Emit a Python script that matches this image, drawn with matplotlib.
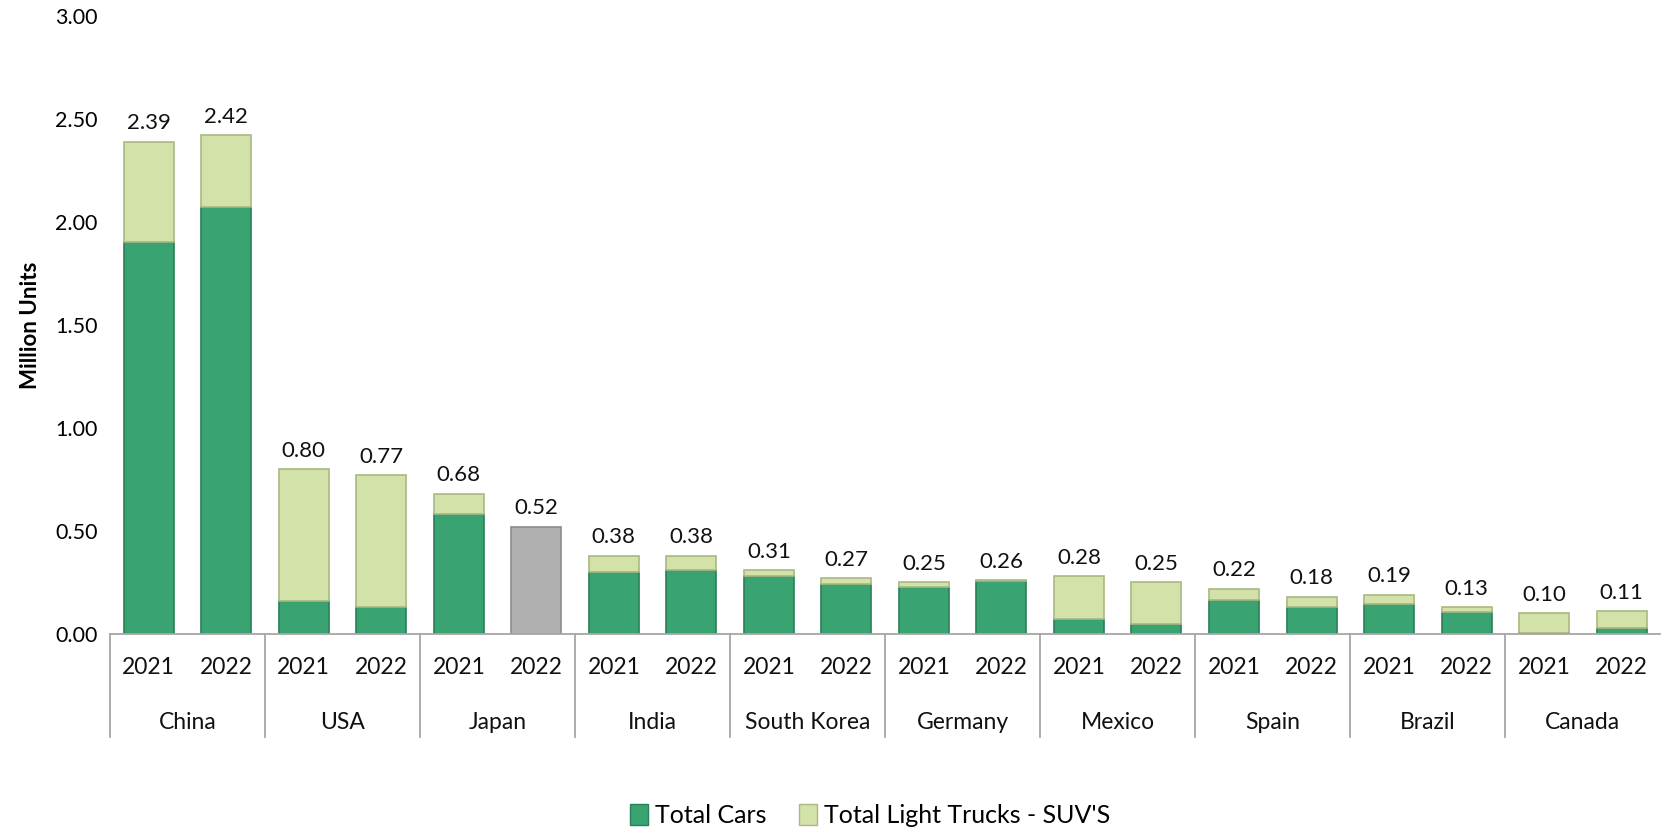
import matplotlib.pyplot as plt
import matplotlib.transforms as mtransforms
from matplotlib.patches import Patch

plt.rcParams['font.family'] = ['Lato', 'DejaVu Sans']

# Data (million units)
countries = ['China', 'USA', 'Japan', 'India', 'South Korea', 'Germany',
             'Mexico', 'Spain', 'Brazil', 'Canada']
years = ['2021', '2022']
# per bar, in order country/year
cars = [1.90, 2.07, 0.16, 0.13, 0.58, 0.00, 0.30, 0.31, 0.28, 0.24,
        0.225, 0.255, 0.07, 0.05, 0.165, 0.13, 0.145, 0.105, 0.005, 0.03]
totals = [2.39, 2.42, 0.80, 0.77, 0.68, 0.52, 0.38, 0.38, 0.31, 0.27,
          0.25, 0.26, 0.28, 0.25, 0.22, 0.18, 0.19, 0.13, 0.10, 0.11]
# Japan 2022 is shown as a single grey bar (no split)
unsplit = [0, 0, 0, 0, 0, 0.52, 0, 0, 0, 0,
           0, 0, 0, 0, 0, 0, 0, 0, 0, 0]

trucks = [0 if u else t - c for c, t, u in zip(cars, totals, unsplit)]

car_color = '#3AA372'
car_edge = '#2B7F57'
truck_color = '#D3E2A9'
truck_edge = '#A9B983'
grey_color = '#B0B0B0'
grey_edge = '#8C8C8C'

fig = plt.figure(figsize=(16.67, 8.34), dpi=100)
ax = fig.add_axes([0.066, 0.240, 0.930, 0.741])

x = list(range(len(totals)))
w = 0.645
ax.bar(x, cars, width=w, color=car_color, edgecolor=car_edge, linewidth=1.2)
ax.bar(x, trucks, width=w, bottom=cars, color=truck_color,
       edgecolor=truck_edge, linewidth=1.2)
ax.bar(x, unsplit, width=w, color=grey_color, edgecolor=grey_edge, linewidth=1.2)

for xi, t in zip(x, totals):
    ax.annotate(f'{t:.2f}', (xi, t), xytext=(0, 6), textcoords='offset points',
                ha='center', va='bottom', fontsize=16, color='#111111')

ax.set_xlim(-0.5, 19.5)
ax.set_ylim(0, 3.0)
ax.set_yticks([0, 0.5, 1.0, 1.5, 2.0, 2.5, 3.0])
ax.set_yticklabels([f'{v:.2f}' for v in [0, 0.5, 1.0, 1.5, 2.0, 2.5, 3.0]],
                   fontsize=15.5)
ax.tick_params(axis='y', length=0, pad=9)
ax.set_xticks([])
for s in ['top', 'right', 'left']:
    ax.spines[s].set_visible(False)
ax.spines['bottom'].set_color('#A6A6A6')
ax.spines['bottom'].set_linewidth(1.3)

ax.set_ylabel('Million Units', fontsize=16, fontweight='bold', labelpad=10)

# Two-level category axis
trans = mtransforms.blended_transform_factory(ax.transData, ax.transAxes)
for i, c in enumerate(countries):
    for j, y in enumerate(years):
        ax.text(2 * i + j, -0.055, y, transform=trans, ha='center', va='center',
                fontsize=16.5, color='#111111')
    ax.text(2 * i + 0.5, -0.144, c, transform=trans, ha='center', va='center',
            fontsize=16.5, color='#111111')
for b in range(len(countries)):
    ax.plot([2 * b - 0.5, 2 * b - 0.5], [0, -0.167], transform=trans,
            color='#A6A6A6', linewidth=1.3, clip_on=False)

handles = [Patch(facecolor=car_color, edgecolor=car_edge, label='Total Cars'),
           Patch(facecolor=truck_color, edgecolor=truck_edge,
                 label="Total Light Trucks - SUV'S")]
fig.legend(handles=handles, loc='center', bbox_to_anchor=(0.522, 0.022),
           ncol=2, frameon=False, fontsize=18, handlelength=0.7,
           handleheight=0.9, handletextpad=0.3, columnspacing=1.3)

fig.savefig('out.png', dpi=100)
